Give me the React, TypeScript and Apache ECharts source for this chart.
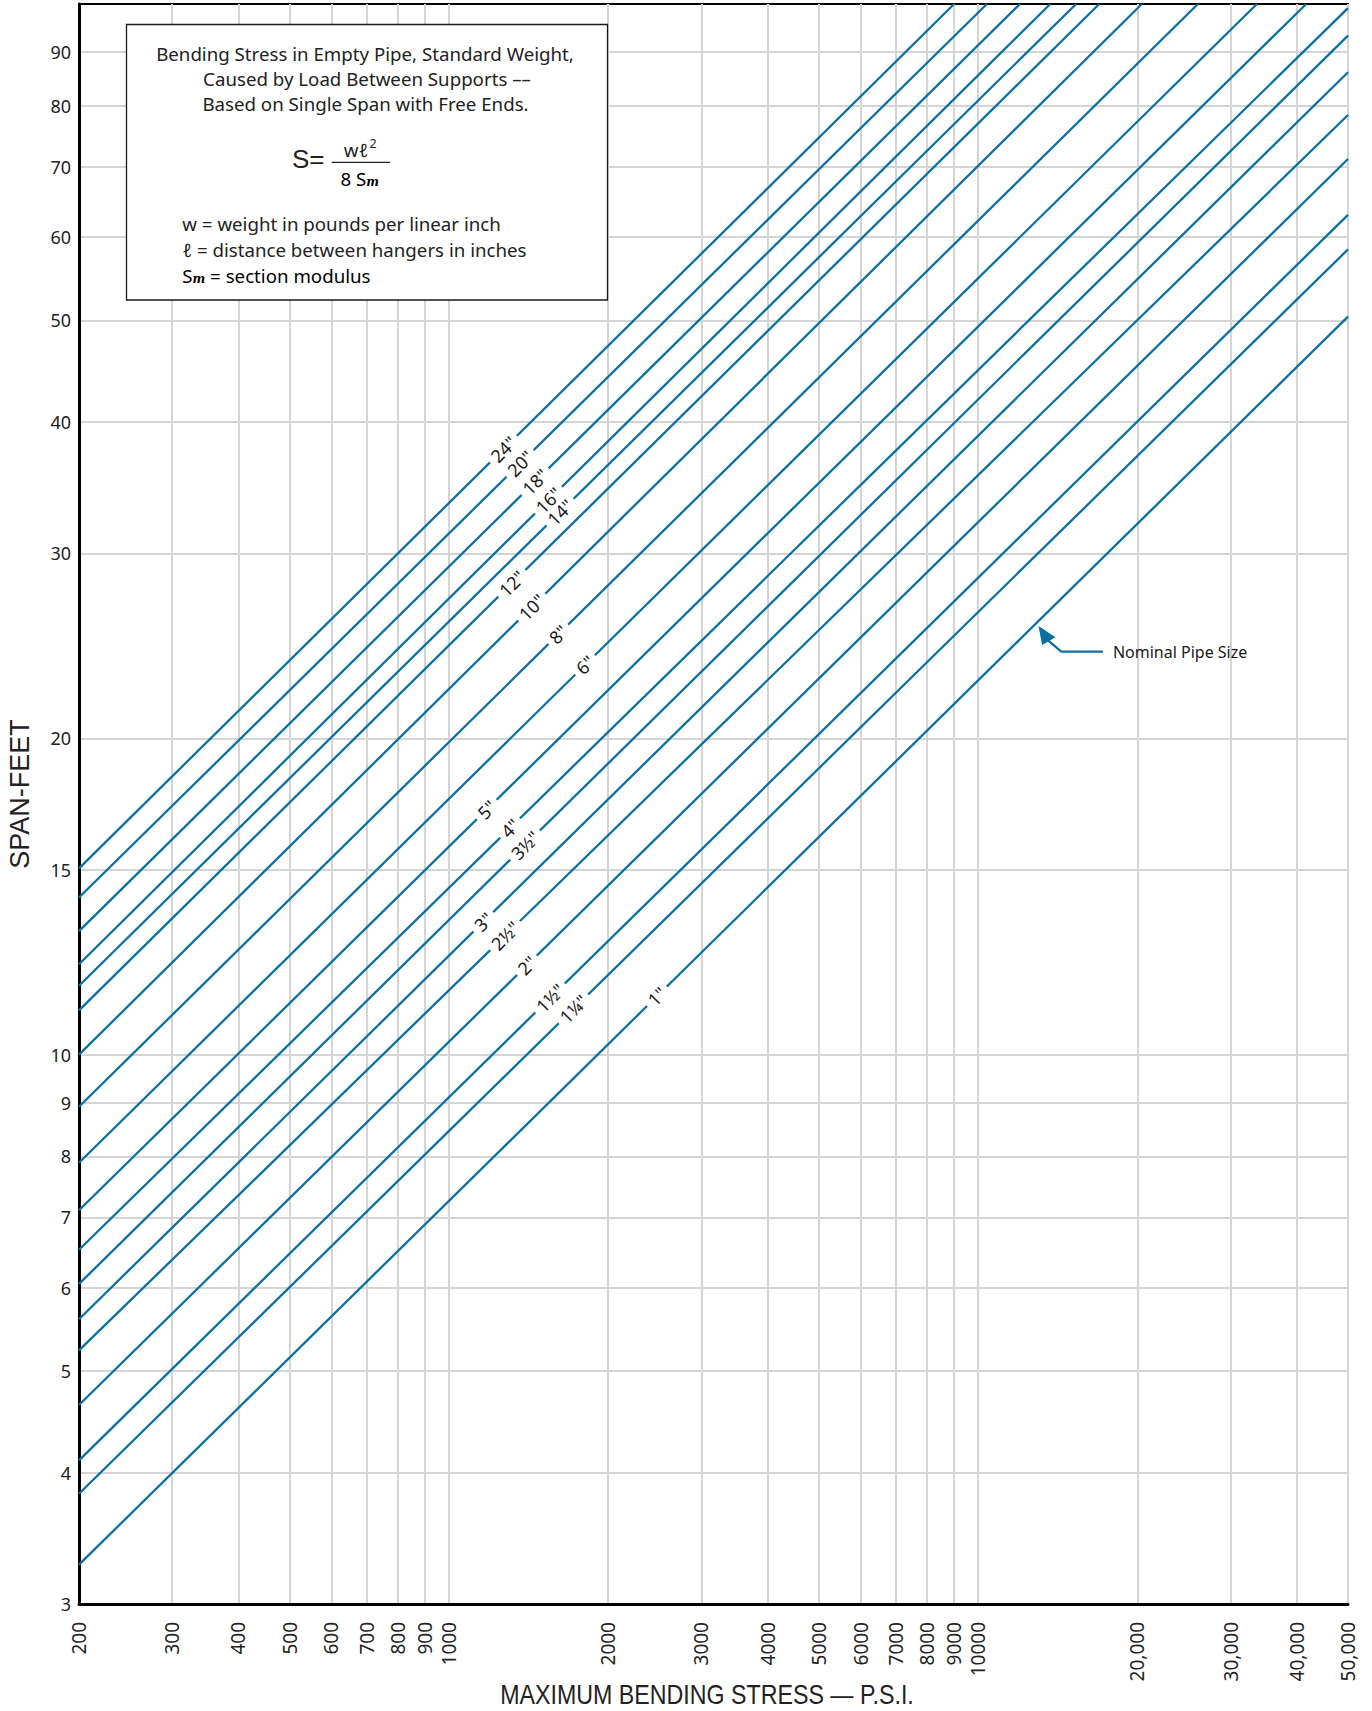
import React, { useEffect, useRef } from "react";
import * as echarts from "echarts";

// ---------- data ----------
const pipeSizes = ['1"', '1¼"', '1½"', '2"', '2½"', '3"', '3½"', '4"', '5"', '6"', '8"', '10"', '12"', '14"', '16"', '18"', '20"', '24"'];
const startStress = [200, 200, 200, 200, 200, 200, 200, 200, 200, 200, 200, 200, 200, 200, 200, 200, 200, 200];
const startSpan = [3.27, 3.82, 4.11, 4.64, 5.23, 5.6, 6.05, 6.52, 7.11, 7.89, 8.92, 10.0, 11.02, 11.63, 12.19, 13.11, 14.11, 15.04];
const endStress = [50000, 50000, 50000, 50000, 50000, 50000, 50000, 50000, 41690, 33640, 26020, 20390, 16940, 15320, 13690, 12000, 10390, 9010];
const endSpan = [50.4, 58.4, 63.0, 71.2, 78.4, 86.1, 93.3, 99.1, 100, 100, 100, 100, 100, 100, 100, 100, 100, 100];
const labelStress = [2472, 1719, 1553, 1404, 1277, 1162, 1393, 1305, 1179, 1809, 1610, 1434, 1315, 1622, 1542, 1455, 1363, 1268];

const xTickValues = [200, 300, 400, 500, 600, 700, 800, 900, 1000, 2000, 3000, 4000, 5000, 6000, 7000, 8000, 9000, 10000, 20000, 30000, 40000, 50000];
const xTickLabels = ["200", "300", "400", "500", "600", "700", "800", "900", "1000", "2000", "3000", "4000", "5000", "6000", "7000", "8000", "9000", "10000", "20,000", "30,000", "40,000", "50,000"];
const yTickValues = [3, 4, 5, 6, 7, 8, 9, 10, 15, 20, 30, 40, 50, 60, 70, 80, 90];
const yTickLabels = ["3", "4", "5", "6", "7", "8", "9", "10", "15", "20", "30", "40", "50", "60", "70", "80", "90"];
const xRange = [200, 50000];
const yRange = [3, 100];

const annotationStress = 12950; // arrow points to the 1" line here
const xTitle = "MAXIMUM BENDING STRESS — P.S.I.";
const yTitle = "SPAN-FEET";
const noteTitle = ["Bending Stress in Empty Pipe, Standard Weight,", "Caused by Load Between Supports ––", "Based on Single Span with Free Ends."];

const BLUE = "#0a70a2";
const GRID = "#d4d4d4";
const TXT = "#222";
const SANS = "'Noto Sans', 'Open Sans', sans-serif";
const ARIAL = "'Liberation Sans', Arial, sans-serif";

const lg = (v: number) => Math.log10(v);

function nearestLabel(v: number, vals: number[], labels: string[]) {
  let best = 0;
  let bd = Infinity;
  vals.forEach((t, i) => {
    const d = Math.abs(lg(t) - v);
    if (d < bd) {
      bd = d;
      best = i;
    }
  });
  return labels[best];
}

function buildOption(): any {
  return {
    animation: false,
    backgroundColor: "#fff",
    grid: {
      left: 79,
      right: 24,
      top: 4,
      bottom: 107,
      show: true,
      borderColor: "#000",
      borderWidth: 2,
      containLabel: false,
      outerBoundsMode: "none",
    },
    xAxis: {
      type: "value",
      min: lg(xRange[0]),
      max: lg(xRange[1]),
      axisLine: { show: true, onZero: false, lineStyle: { color: "#000", width: 3 } },
      axisTick: { show: false, customValues: xTickValues.map((v) => lg(v)) },
      axisLabel: {
        customValues: xTickValues.map((v) => lg(v)),
        rotate: 90,
        margin: 18,
        fontSize: 19,
        fontFamily: SANS,
        color: TXT,
        hideOverlap: false,
        formatter: (v: number) => nearestLabel(v, xTickValues, xTickLabels),
      },
      splitLine: { show: true, lineStyle: { color: GRID, width: 2 } },
    },
    yAxis: {
      type: "value",
      min: lg(yRange[0]),
      max: lg(yRange[1]),
      axisLine: { show: true, onZero: false, lineStyle: { color: "#000", width: 3 } },
      axisTick: { show: false, customValues: yTickValues.map((v) => lg(v)) },
      axisLabel: {
        customValues: yTickValues.map((v) => lg(v)),
        margin: 8,
        fontSize: 18,
        fontFamily: SANS,
        color: TXT,
        hideOverlap: false,
        formatter: (v: number) => nearestLabel(v, yTickValues, yTickLabels),
      },
      splitLine: { show: true, lineStyle: { color: GRID, width: 2 } },
    },
    series: pipeSizes.map((name, i) => ({
      type: "line",
      name,
      silent: true,
      symbol: "none",
      showSymbol: false,
      z: 3,
      lineStyle: { color: BLUE, width: 2.3 },
      data: [
        [lg(startStress[i]), lg(startSpan[i])],
        [lg(endStress[i]), lg(endSpan[i])],
      ],
    })),
  };
}

function spanOnLine(i: number, s: number) {
  const k = Math.log(endSpan[i] / startSpan[i]) / Math.log(endStress[i] / startStress[i]);
  return startSpan[i] * Math.pow(s / startStress[i], k);
}

function buildGraphics(chart: any): any[] {
  const els: any[] = [];
  const txt = (x: number, y: number, text: string, extra: any = {}, z = 51) => ({
    type: "text",
    x,
    y,
    z,
    style: { text, fontSize: 18.7, fontFamily: SANS, fill: TXT, align: "center", verticalAlign: "middle", ...extra },
  });

  // pipe-size labels sitting in gaps along each line
  pipeSizes.forEach((name, i) => {
    const s = labelStress[i];
    const p = chart.convertToPixel({ gridIndex: 0 }, [lg(s), lg(spanOnLine(i, s))]);
    els.push({
      type: "text",
      x: p[0],
      y: p[1],
      rotation: Math.PI / 4,
      z: 60,
      style: {
        text: name,
        fontSize: 18,
        fontFamily: SANS,
        fill: "#1a1a1a",
        align: "center",
        verticalAlign: "middle",
        backgroundColor: "#fff",
        padding: [0, 5, 0, 5],
      },
    });
  });

  // note box
  els.push({
    type: "rect",
    z: 50,
    shape: { x: 126.5, y: 24.5, width: 481, height: 275.5 },
    style: { fill: "#fff", stroke: "#1a1a1a", lineWidth: 1.3 },
  });
  els.push(txt(365, 53.3, noteTitle[0]));
  els.push(txt(367, 78.3, noteTitle[1]));
  els.push(txt(365.5, 103.3, noteTitle[2]));
  // formula
  els.push(txt(292, 159, "S=", { fontSize: 26, fontFamily: ARIAL, align: "left" }));
  els.push(txt(356, 149, "wℓ", { fontSize: 18.7 }));
  els.push(txt(369.5, 143, "2", { fontSize: 12.5, align: "left" }));
  els.push({ type: "line", z: 51, shape: { x1: 331.7, y1: 162.3, x2: 390, y2: 162.3 }, style: { stroke: TXT, lineWidth: 1.2 } });
  const richStyle = {
    a: { fontSize: 18.7, fontFamily: SANS, color: TXT, verticalAlign: "bottom", lineHeight: 22 },
    b: { fontSize: 12, fontFamily: "'DejaVu Serif', serif", fontStyle: "italic", fontWeight: "bold", color: TXT, verticalAlign: "bottom", lineHeight: 18 },
  };
  els.push({
    type: "text",
    z: 51,
    x: 340.5,
    y: 177,
    style: { text: "{a|8 S}{b|m}", rich: richStyle, align: "left", verticalAlign: "middle" },
  });
  // definitions
  els.push(txt(182.3, 223.3, "w = weight in pounds per linear inch", { align: "left" }));
  els.push(txt(182.3, 249.3, "ℓ = distance between hangers in inches", { align: "left" }));
  els.push({
    type: "text",
    z: 51,
    x: 182.3,
    y: 274.3,
    style: { text: "{a|S}{b|m}{a| = section modulus}", rich: richStyle, align: "left", verticalAlign: "middle" },
  });

  // "Nominal Pipe Size" annotation
  const lp = chart.convertToPixel({ gridIndex: 0 }, [lg(annotationStress), lg(spanOnLine(0, annotationStress))]);
  const tx = lp[0] + 1;
  const ty = lp[1] + 4;
  els.push({
    type: "polygon",
    z: 55,
    shape: { points: [[tx, ty], [tx + 3.6, ty + 19], [tx + 17, ty + 11.3]] },
    style: { fill: BLUE },
  });
  els.push({
    type: "polyline",
    z: 55,
    shape: { points: [[tx + 9, ty + 14], [tx + 22.7, ty + 25.7], [tx + 64.4, ty + 25.7]] },
    style: { stroke: BLUE, lineWidth: 2.3, fill: "none" },
  });
  els.push(txt(tx + 74.4, ty + 25.7, "Nominal Pipe Size", { fontSize: 16, align: "left", fill: "#1a1a1a" }));

  // axis titles
  els.push({
    type: "text",
    z: 51,
    x: 20,
    y: 794,
    rotation: Math.PI / 2,
    style: { text: yTitle, fontSize: 27, fontFamily: ARIAL, fill: TXT, align: "center", verticalAlign: "middle" },
  });
  els.push({
    type: "text",
    z: 51,
    x: 707,
    y: 1694,
    scaleX: 0.86,
    style: { text: xTitle, fontSize: 27, fontFamily: ARIAL, fill: TXT, align: "center", verticalAlign: "middle" },
  });
  return els;
}

export default function App() {
  const ref = useRef<HTMLDivElement>(null);
  useEffect(() => {
    document.body.style.margin = "0";
    if (!ref.current) return;
    const chart = echarts.init(ref.current, null, { renderer: "svg" });
    chart.setOption(buildOption());
    chart.setOption({ graphic: buildGraphics(chart) });
    return () => {
      chart.dispose();
    };
  }, []);
  return <div ref={ref} style={{ width: 1372, height: 1711 }} />;
}
